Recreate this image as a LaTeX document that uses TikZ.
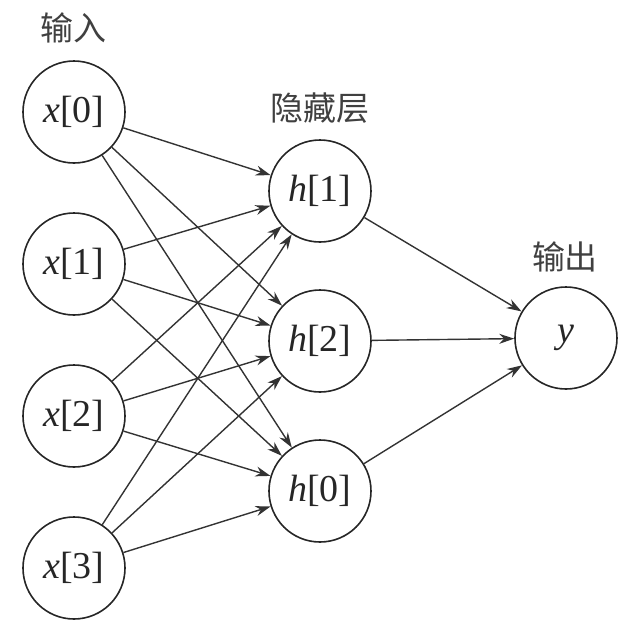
\documentclass[tikz,border=0pt]{standalone}
\usepackage{fontspec}
\newfontfamily\lserif{Liberation Serif}
\newfontfamily\cjk{Noto Sans CJK SC}
\usetikzlibrary{arrows.meta}

\begin{document}
\begin{tikzpicture}[x=0.5pt,y=-0.5pt,
    neuron/.style={circle,draw=black!85,line width=0.8pt,minimum size=51pt,inner sep=0pt,font=\lserif\fontsize{19}{21}\selectfont,text=black!85},
    layer/.style={font=\cjk\fontsize{16.5}{20}\selectfont,text=black!75},
    link/.style={draw=black!80,line width=0.7pt,-{Stealth[length=7.5pt,width=5pt]}}]
    \useasboundingbox (0,0) rectangle (634,634);

    % 输入层
    \node[neuron] (x0) at (74,112) {\textit{x}[0]};
    \node[neuron] (x1) at (74,264) {\textit{x}[1]};
    \node[neuron] (x2) at (74,416) {\textit{x}[2]};
    \node[neuron] (x3) at (74,568) {\textit{x}[3]};

    % 隐藏层
    \node[neuron] (h1) at (320,191) {\textit{h}[1]};
    \node[neuron] (h2) at (320,341) {\textit{h}[2]};
    \node[neuron] (h0) at (320,491) {\textit{h}[0]};

    % 输出层
    \node[neuron] (y) at (566,338) {\textit{y}};

    % 上方标签
    \node[layer] (inlabel) at (73,28) {输入};
    \node[layer] (hidlabel) at (320,108) {隐藏层};
    \node[layer] (outlabel) at (565,257) {输出};

    % 连线
    \foreach \i in {x0,x1,x2,x3}
        \foreach \j in {h1,h2,h0}
            \draw[link] (\i) -- (\j);
    \foreach \j in {h1,h2,h0}
        \draw[link] (\j) -- (y);
\end{tikzpicture}
\end{document}
